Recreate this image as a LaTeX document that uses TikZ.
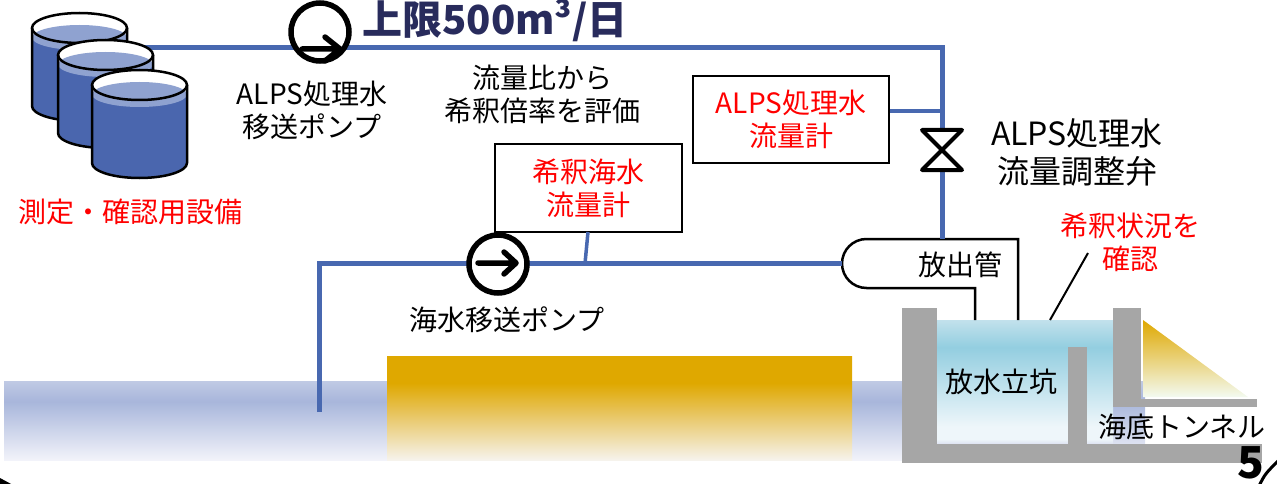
\documentclass[tikz,border=0pt]{standalone}
\usepackage{fontspec}
\newfontfamily\jp{Noto Sans CJK JP}
\usetikzlibrary{arrows.meta}

\definecolor{pipeblue}{HTML}{4868B0}
\definecolor{tankdark}{HTML}{4A66AE}
\definecolor{tanklight}{HTML}{8FA2D0}
\definecolor{wallgray}{HTML}{A6A6A6}
\definecolor{navy}{HTML}{282B5C}
\definecolor{alert}{HTML}{FF0000}
\definecolor{seaTop}{HTML}{C0CAE4}
\definecolor{seaMid}{HTML}{A8B6DB}
\definecolor{seaBot}{HTML}{F2F3FA}
\definecolor{sand}{HTML}{DFA800}
\definecolor{sandMid}{HTML}{E9C96E}
\definecolor{sandBot}{HTML}{F6F3EC}
\definecolor{wTop}{HTML}{C2E1EC}
\definecolor{wMid}{HTML}{93CEE0}
\definecolor{wLow}{HTML}{EEF6FA}
\definecolor{wBot}{HTML}{DDE1F1}
\definecolor{triBot}{HTML}{F3FAF0}

% vertical gradients (the path is fitted into 25bp..75bp)
\pgfdeclareverticalshading{seaband}{100bp}{color(0bp)=(seaBot); color(25bp)=(seaBot); color(62bp)=(seaMid); color(75bp)=(seaTop); color(100bp)=(seaTop)}
\pgfdeclareverticalshading{sandbed}{100bp}{color(0bp)=(sandBot); color(25bp)=(sandBot); color(45bp)=(sandMid); color(62bp)=(sand); color(100bp)=(sand)}
\pgfdeclareverticalshading{shaftwater}{100bp}{color(0bp)=(wBot); color(25bp)=(wBot); color(27bp)=(wLow); color(32bp)=(wLow); color(64bp)=(wMid); color(75bp)=(wTop); color(100bp)=(wTop)}
\pgfdeclareverticalshading{slope}{100bp}{color(0bp)=(triBot); color(25bp)=(triBot); color(75bp)=(sand); color(100bp)=(sand)}

% one storage tank, top-left corner of its outline at (#1,#2)
\newcommand\storagetank[2]{%
  \begin{scope}[shift={(#1,#2)}]
    \fill[white] (0,15) arc[start angle=180,end angle=360,x radius=47.5,y radius=15]
      -- (95,93) arc[start angle=0,end angle=180,x radius=47.5,y radius=15] -- cycle;
    \fill[tankdark] (0,24.5) -- (0,93) arc[start angle=180,end angle=0,x radius=47.5,y radius=15]
      -- (95,24.5) -- cycle;
    \fill[tanklight] (47.5,24.5) ellipse [x radius=47.5,y radius=12.5];
    \draw[tankline] (47.5,15) ellipse [x radius=47.5,y radius=15];
    \draw[tankline] (0,15) -- (0,93) arc[start angle=180,end angle=0,x radius=47.5,y radius=15] -- (95,15);
  \end{scope}}

\begin{document}
\begin{tikzpicture}[x=1pt,y=-1pt,
  every node/.style={font=\jp},
  pipe/.style={draw=pipeblue,line width=5pt},
  tap/.style={draw=pipeblue,line width=3.5pt},
  tankline/.style={draw=black,line width=2.5pt},
  pumpbody/.style={circle,draw=black,fill=white,line width=5.5pt,minimum size=58pt,inner sep=0pt},
  flowarrow/.style={draw=black,line width=5.5pt,line cap=round,line join=round},
  meter/.style={rectangle,draw=black,fill=white,line width=1.8pt,align=center,text=alert,
    font=\jp\fontsize{28}{33}\selectfont,inner sep=0pt},
  lbl/.style={align=center,font=\jp\fontsize{28}{33}\selectfont},
  redlbl/.style={lbl,text=alert},
  wall/.style={fill=wallgray},
  outline/.style={draw=black,line width=2.5pt},
  leader/.style={draw=black,line width=2pt}]
\useasboundingbox (0,0) rectangle (1277,484);

% ---- sea and seabed ----
\shade[shading=seaband] (4,381) rectangle (1145,460);
\shade[shading=sandbed] (387,356) rectangle (852,460);

% ---- shaft water and slope ----
\shade[shading=shaftwater] (937,320) rectangle (1113,444);
\shade[shading=slope] (1143,320) -- (1143,397) -- (1248,397) -- cycle;

% ---- concrete walls ----
\fill[wall] (902,308) rectangle (937,463);
\fill[wall] (902,444) rectangle (1262,463);
\fill[wall] (1068,347) rectangle (1087,444);
\fill[wall] (1113,308) rectangle (1141,407);
\fill[wall] (1141,399) rectangle (1257,407);

% ---- discharge header ----
\coordinate (hdrtop) at (942,239);
\coordinate (hdrleft) at (842,263.5);
\draw[outline] (975,320) -- (975,288) -- (866.5,288)
  arc[start angle=90,end angle=270,radius=24.5] -- (1018,239) -- (1018,320);
\node[lbl] (hdr) at (960,265) {放出管};

% ---- ALPS treated water line ----
\coordinate (tankout) at (140,48);
\coordinate (topcorner) at (942,48);
\draw[pipe] (tankout) -- (topcorner) -- (hdrtop);

% ---- sea water line ----
\coordinate (intake) at (319,412);
\coordinate (intakecorner) at (319,263.5);
\draw[pipe] (intake) -- (intakecorner) -- (hdrleft);

% ---- tanks ----
\storagetank{32}{13}
\storagetank{58}{40}
\storagetank{92}{70}
\node[redlbl] (tanklbl) at (130,212) {測定・確認用設備};

% ---- pumps ----
\node[pumpbody] (pumpA) at (320,32) {};
\draw[flowarrow] (302,49) -- (340,49) (325,37) -- (340,49) -- (325,61);
\node[lbl] (pumpAlbl) at (312,110) {ALPS処理水\\移送ポンプ};

\node[pumpbody] (pumpB) at (498,264) {};
\draw[flowarrow] (478,263) -- (516,263) (504,252) -- (516,263) -- (504,274);
\node[lbl] (pumpBlbl) at (507,320) {海水移送ポンプ};

% ---- flow meters ----
\node[meter,minimum width=196pt,minimum height=87pt] (meterA) at (791,119.5) {ALPS処理水\\流量計};
\coordinate (tapA) at (942,111);
\draw[tap] (meterA.east |- tapA) -- (tapA);

\node[meter,minimum width=187pt,minimum height=88pt] (meterB) at (588.5,188) {希釈海水\\流量計};
\coordinate (tapB) at (585,263.5);
\draw[tap] (588,232) -- (tapB);

% ---- control valve ----
\coordinate (valve) at (942,150);
\draw[black,fill=white,line width=4pt,line join=round]
  (922,130) -- (962,130) -- (valve) -- cycle
  (922,170) -- (962,170) -- (valve) -- cycle;
\node[lbl,font=\jp\fontsize{32}{38}\selectfont] (valvelbl) at (1077,152) {ALPS処理水\\流量調整弁};

% ---- other labels ----
\node[font=\jp\bfseries\fontsize{40}{46}\selectfont,text=navy] (limit) at (495,20) {上限500m³/日};
\node[lbl] (ratio) at (542,94) {流量比から\\希釈倍率を評価};
\node[lbl] (shaft) at (1001,382) {放水立坑};
\node[lbl] (tunnel) at (1182,427) {海底トンネル};
\node[redlbl] (check) at (1130,242) {希釈状況を\\確認};
\coordinate (checktip) at (1088,253);
\coordinate (surface) at (1050,320);
\draw[leader] (checktip) -- (surface);

% ---- page corner ----
\node[font=\jp\bfseries\fontsize{44}{48}\selectfont] (pageno) at (1251,463) {5};
\draw[black,line width=3pt] (1259,486) .. controls (1265,474) .. (1279,460);
\fill[black] (0,478) -- (13,485) -- (0,485) -- cycle;
\end{tikzpicture}
\end{document}
